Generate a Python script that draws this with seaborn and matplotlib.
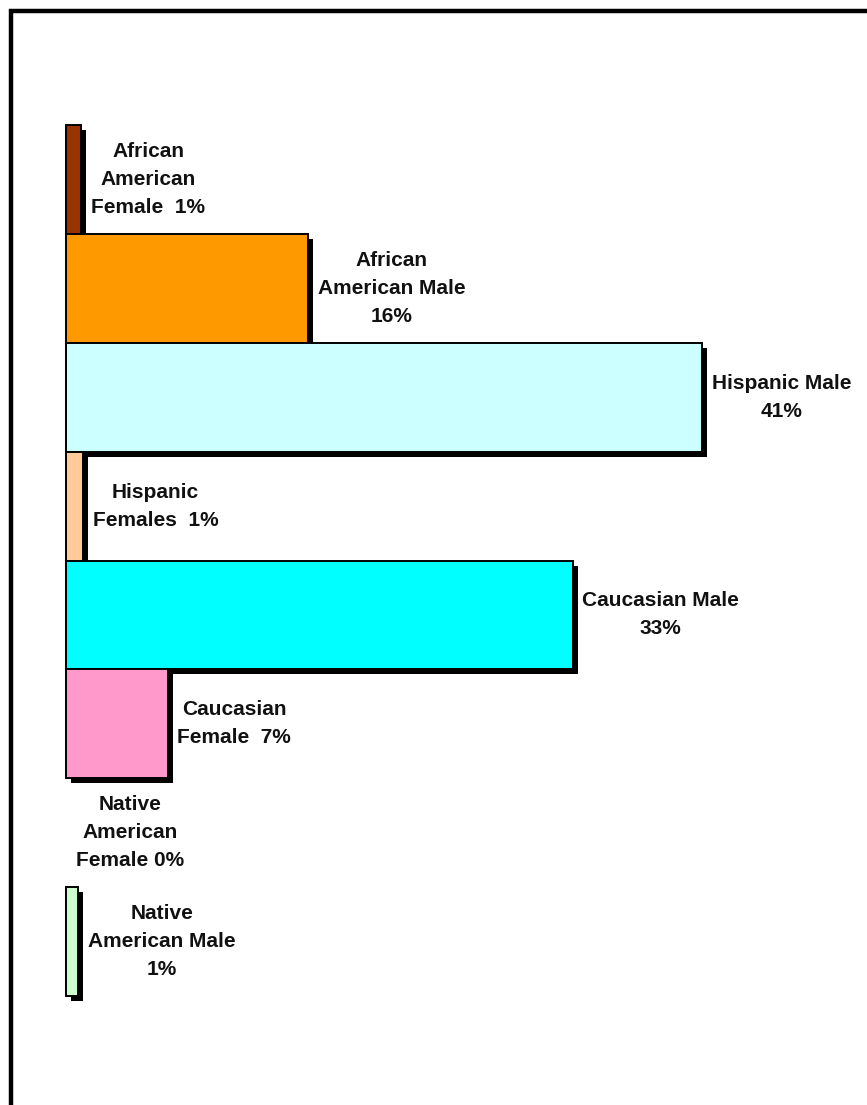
import matplotlib
matplotlib.use("Agg")
import matplotlib.pyplot as plt
import matplotlib.patheffects as pe
from matplotlib.patches import Rectangle
import seaborn as sns
import pandas as pd

# values (percent of total)
groups = [
    "African American Female",
    "African American Male",
    "Hispanic Male",
    "Hispanic Females",
    "Caucasian Male",
    "Caucasian Female",
    "Native American Female",
    "Native American Male",
]
shares = [1.0, 15.7, 41.3, 1.1, 32.9, 6.6, 0.0, 0.8]
labels = [
    "African\nAmerican\nFemale  1%",
    "African\nAmerican Male\n16%",
    "Hispanic Male\n41%",
    "Hispanic\nFemales  1%",
    "Caucasian Male\n33%",
    "Caucasian\nFemale  7%",
    "Native\nAmerican\nFemale 0%",
    "Native\nAmerican Male\n1%",
]
colors = ["#993300", "#FF9900", "#CCFFFF", "#FFCC99",
          "#00FFFF", "#FF99CC", "#CCFFCC", "#CCFFCC"]

sns.set_style("white")
plt.rcParams["font.family"] = ["Liberation Sans", "DejaVu Sans"]

W, H = 867, 1105
fig = plt.figure(figsize=(W / 100, H / 100), dpi=100)

# axes placed in pixel terms: bars start at x=66, span y 125..996
x0, x1 = 66, 836
y0, y1 = 125, 996
ax = fig.add_axes([x0 / W, 1 - y1 / H, (x1 - x0) / W, (y1 - y0) / H])

df = pd.DataFrame({"group": groups, "share": shares})
sns.barplot(data=df, x="share", y="group", hue="group", palette=colors,
            legend=False, orient="h", width=1.0, edgecolor="black",
            linewidth=1.4, saturation=1, ax=ax)

shadow = [pe.SimplePatchShadow(offset=(3.6, -3.6), shadow_rgbFace="black", alpha=1.0),
          pe.Normal()]
for p in ax.patches:
    p.set_clip_on(False)
    if p.get_width() <= 0:
        p.set_visible(False)
    else:
        p.set_path_effects(shadow)

for i, (v, lab) in enumerate(zip(shares, labels)):
    ax.annotate(lab, xy=(v, i), xytext=(7, 0), textcoords="offset points",
                ha="left", va="center", multialignment="center",
                fontsize=15, fontweight="bold", linespacing=1.6, color="#111111")

ax.set_xlim(0, 50)
ax.set_ylim(len(groups) - 0.5, -0.5)
ax.axis("off")

# outer frame, cut off at right and bottom like the original
frame = Rectangle((10.5 / W, -0.05), 1.2, 1 - 11 / H + 0.05,
                  transform=fig.transFigure, fill=False,
                  edgecolor="black", linewidth=3.2, clip_on=False)
fig.add_artist(frame)

fig.savefig("out.png", dpi=100, facecolor="white")
